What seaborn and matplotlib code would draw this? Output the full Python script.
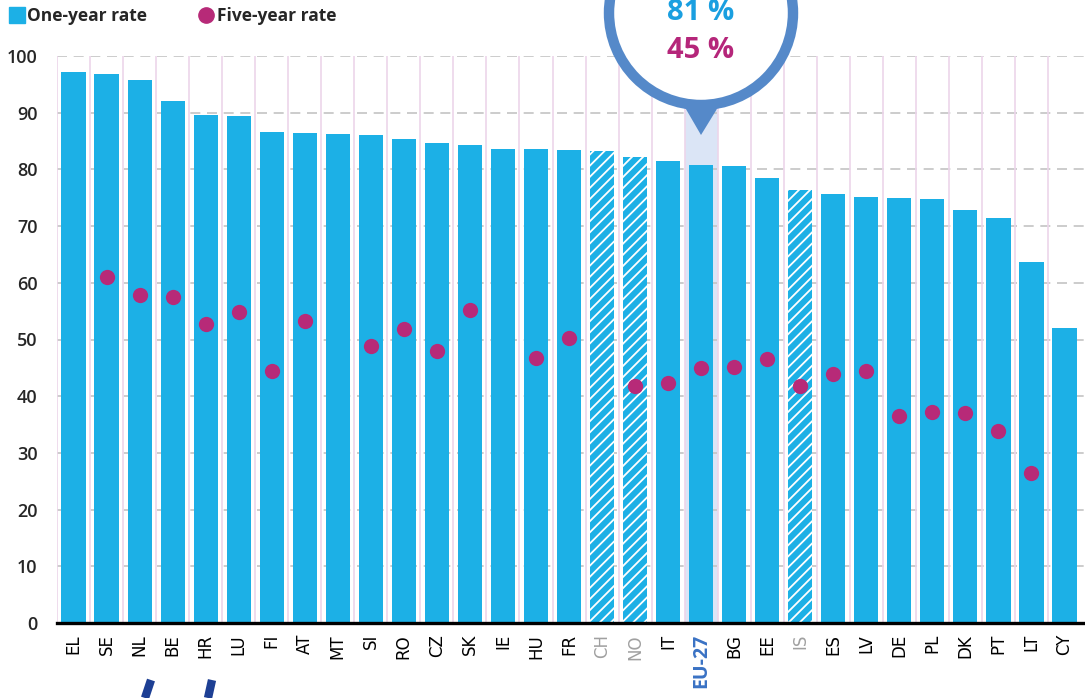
import numpy as np
import pandas as pd
import matplotlib
matplotlib.use("Agg")
import matplotlib.pyplot as plt
import seaborn as sns
from matplotlib.patches import Ellipse, Polygon
from matplotlib.lines import Line2D

# -----------------------------
# data
# -----------------------------
countries = ['EL', 'SE', 'NL', 'BE', 'HR', 'LU', 'FI', 'AT', 'MT', 'SI', 'RO', 'CZ', 'SK',
             'IE', 'HU', 'FR', 'CH', 'NO', 'IT', 'EU-27', 'BG', 'EE', 'IS', 'ES', 'LV',
             'DE', 'PL', 'DK', 'PT', 'LT', 'CY']
one_year = [97.1, 96.8, 95.8, 92.1, 89.6, 89.4, 86.6, 86.4, 86.3, 86.1, 85.4, 84.7, 84.3,
            83.6, 83.6, 83.4, 83.3, 82.1, 81.4, 80.8, 80.6, 78.4, 76.4, 75.7, 75.2,
            75.0, 74.7, 72.9, 71.5, 63.7, 52.1]
five_year = [np.nan, 61.0, 57.8, 57.5, 52.7, 54.9, 44.5, 53.2, np.nan, 48.9, 51.9, 47.9, 55.2,
             np.nan, 46.8, 50.2, np.nan, 41.8, 42.3, 45.0, 45.2, 46.6, 41.8, 43.9, 44.5,
             36.5, 37.3, 37.1, 33.8, 26.5, np.nan]
non_eu = ['CH', 'NO', 'IS']
eu_label = 'EU-27'
eu_one_text = '81 %'
eu_five_text = '45 %'

df = pd.DataFrame({'country': countries, 'one': one_year, 'five': five_year})

BAR = '#1cb0e6'
DOT = '#b72a78'
RING = '#5589c9'
W, H = 1085, 698

sns.set_theme(style='white')
plt.rcParams['font.family'] = ['Open Sans', 'DejaVu Sans']
plt.rcParams['hatch.linewidth'] = 1.3

fig = plt.figure(figsize=(W / 100, H / 100), dpi=100)
ax = fig.add_axes([57 / W, 75 / H, (W - 57) / W, (623 - 56) / H])

# highlight band behind EU-27
eu_idx = countries.index(eu_label)
ax.axvspan(eu_idx - 0.5, eu_idx + 0.5, ymin=0, ymax=(623 - 110) / 567,
           color='#dbe5f6', zorder=0, lw=0)

# grid
for v in range(10, 101, 10):
    ax.axhline(v, color='#c4c4c4', lw=1.2, ls=(0, (6, 4)), zorder=0.5)
for i in range(len(countries)):
    ax.axvline(i - 0.5, color='#ecd6ea', lw=1.2, zorder=0.6)

sns.barplot(data=df, x='country', y='one', color=BAR, saturation=1, width=0.73,
            ax=ax, zorder=2)
for patch, c in zip(ax.containers[0].patches, countries):
    patch.set_linewidth(0)
    if c in non_eu:
        patch.set_edgecolor('white')
        if hasattr(patch, 'set_hatchcolor'):
            patch.set_hatchcolor('white')
        patch.set_hatch('///')
    else:
        patch.set_edgecolor(BAR)

sns.stripplot(data=df, x='country', y='five', color=DOT, jitter=False, size=11,
              linewidth=0, ax=ax, zorder=3)

ax.set_xlim(-0.5, 30.62)
ax.set_ylim(0, 100)
ax.set_yticks(range(0, 101, 10))
ax.set_xlabel('')
ax.set_ylabel('')
for s in ['top', 'right', 'left']:
    ax.spines[s].set_visible(False)
ax.spines['bottom'].set_color('black')
ax.spines['bottom'].set_linewidth(2.4)
ax.spines['bottom'].set_zorder(4)
ax.tick_params(axis='y', length=0, pad=14, labelsize=13)
ax.tick_params(axis='x', length=0, pad=8)
for lab in ax.get_yticklabels():
    lab.set_fontweight('semibold')

ax.set_xticks(range(len(countries)))
ax.set_xticklabels(countries, rotation=90, family='DejaVu Sans', fontsize=12)
for lab in ax.get_xticklabels():
    t = lab.get_text()
    if t in non_eu:
        lab.set_color('#a0a0a0')
    elif t == eu_label:
        lab.set_color('#3a72c4')
        lab.set_fontweight('bold')
        lab.set_fontsize(14)
        lab.set_family('Open Sans')
    else:
        lab.set_color('black')

# legend
handles = [Line2D([], [], marker='s', color=BAR, ls='none', markersize=11),
           Line2D([], [], marker='o', color=DOT, ls='none', markersize=11)]
fig.legend(handles, ['One-year rate', 'Five-year rate'], loc='upper left',
           bbox_to_anchor=(-0.007, 1.012), ncol=2, frameon=False,
           handletextpad=0.1, columnspacing=2.9, handlelength=1.0,
           prop={'weight': 'bold', 'size': 12.5})

# callout bubble for EU-27
cx, cy, r = 701, 13, 92
bubble = Ellipse((cx / W, 1 - cy / H), 2 * r / W, 2 * r / H, transform=fig.transFigure,
                 facecolor='white', edgecolor=RING, lw=7.5, zorder=5)
fig.patches.append(bubble)
tip = Polygon([[683 / W, 1 - 104 / H], [720 / W, 1 - 104 / H], [701 / W, 1 - 135 / H]],
              closed=True, transform=fig.transFigure, facecolor=RING, edgecolor='none', zorder=5)
fig.patches.append(tip)
fig.text(cx / W, 1 - 12 / H, eu_one_text, color='#1a9fe0', fontsize=21, fontweight='bold',
         ha='center', va='center', zorder=6)
fig.text(cx / W, 1 - 50 / H, eu_five_text, color='#b5267a', fontsize=21, fontweight='bold',
         ha='center', va='center', zorder=6)

# decorative strokes at bottom left
for x0, x1 in [(145, 151), (208, 212)]:
    fig.add_artist(Line2D([x0 / W, x1 / W], [0, 18 / H], color='#1d3f94', lw=6,
                          transform=fig.transFigure, solid_capstyle='butt'))

fig.savefig('out.png', dpi=100)
